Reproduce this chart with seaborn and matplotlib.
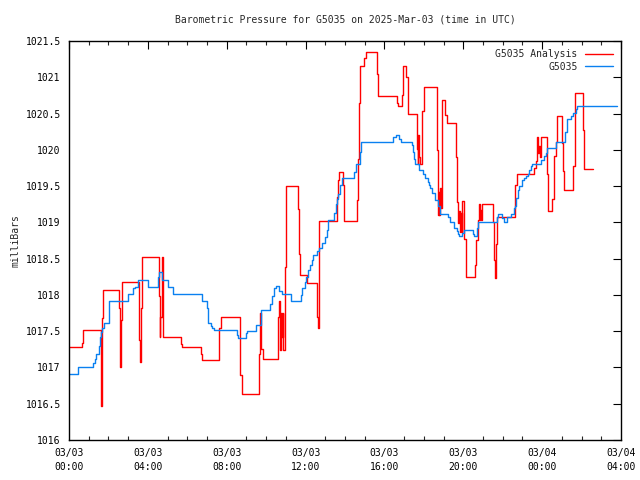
import matplotlib
matplotlib.use("Agg")
import matplotlib.pyplot as plt
import seaborn as sns
import pandas as pd
from matplotlib.ticker import MultipleLocator, FixedLocator

# ---- data (hours since 03/03 00:00 UTC, millibars) ----
analysis_t = [0.0, 0.64, 0.73, 1.61, 1.63, 1.66, 1.74, 2.55, 2.58, 2.61, 2.66, 2.70,
              3.55, 3.62, 3.66, 3.72, 4.58, 4.60, 4.64, 4.70, 4.77, 5.68, 5.75,
              6.68, 6.73, 7.63, 7.72, 8.68, 8.76, 9.65, 9.70, 9.76, 9.83,
              10.62, 10.66, 10.70, 10.76, 10.80, 10.84, 10.88, 10.96, 11.00,
              11.64, 11.67, 11.73, 12.09, 12.57, 12.60, 12.65, 12.68, 12.70,
              13.58, 13.65, 13.71, 13.90, 13.93, 13.97,
              14.63, 14.66, 14.71, 14.78, 14.97, 15.05, 15.64, 15.69,
              16.62, 16.71, 16.88, 16.96, 17.08, 17.21,
              17.64, 17.68, 17.72, 17.76, 17.82, 17.90, 18.01,
              18.66, 18.71, 18.75, 18.78, 18.82, 18.87, 18.94, 19.05, 19.09, 19.16,
              19.62, 19.70, 19.75, 19.80, 19.85, 19.90, 19.93, 19.96, 20.05, 20.12,
              20.60, 20.66, 20.73, 20.78, 20.83, 20.87, 20.92, 20.97,
              21.53, 21.58, 21.62, 21.66, 21.69, 22.63, 22.71,
              23.61, 23.69, 23.76, 23.80, 23.85, 23.88, 23.95,
              24.24, 24.29, 24.52, 24.60, 24.69, 24.77,
              25.00, 25.06, 25.13, 25.59, 25.67, 26.06, 26.11, 26.60]
analysis_p = [1017.28, 1017.34, 1017.52, 1017.01, 1016.47, 1017.68, 1018.07, 1017.82, 1017.30, 1017.01, 1017.65, 1018.18,
              1017.38, 1017.08, 1017.82, 1018.52, 1017.98, 1017.42, 1017.70, 1018.52, 1017.42, 1017.33, 1017.28,
              1017.19, 1017.10, 1017.54, 1017.69, 1016.90, 1016.63, 1017.19, 1017.75, 1017.26, 1017.11,
              1017.70, 1017.91, 1017.24, 1017.75, 1017.42, 1017.75, 1017.24, 1018.38, 1019.50,
              1019.19, 1018.57, 1018.27, 1018.17, 1017.90, 1017.70, 1017.54, 1018.29, 1019.02,
              1019.35, 1019.58, 1019.70, 1019.52, 1019.20, 1019.02,
              1019.31, 1019.88, 1020.65, 1021.15, 1021.26, 1021.35, 1021.05, 1020.74,
              1020.65, 1020.60, 1020.75, 1021.15, 1021.01, 1020.49,
              1020.01, 1019.81, 1020.21, 1019.90, 1019.81, 1020.53, 1020.86,
              1020.00, 1019.10, 1019.42, 1019.10, 1019.47, 1019.20, 1020.69, 1020.60, 1020.48, 1020.37,
              1019.90, 1019.28, 1018.99, 1019.15, 1018.87, 1019.13, 1018.87, 1019.30, 1018.77, 1018.24,
              1018.41, 1018.76, 1019.03, 1019.25, 1019.03, 1019.17, 1019.03, 1019.25,
              1019.01, 1018.48, 1018.23, 1018.70, 1019.08, 1019.51, 1019.67,
              1019.75, 1019.84, 1020.17, 1019.95, 1020.05, 1019.90, 1020.17,
              1019.67, 1019.16, 1019.32, 1019.91, 1020.11, 1020.47,
              1020.10, 1019.71, 1019.45, 1019.78, 1020.79, 1020.27, 1019.74, 1019.74]

station_t = [0.0, 0.47, 1.23, 1.30, 1.35, 1.52, 1.57, 1.62, 1.69, 1.79, 2.02, 2.98, 3.26, 3.35, 3.52,
             3.99, 4.50, 4.55, 4.73, 5.02, 5.27, 6.73, 6.98, 7.03, 7.07, 7.20, 7.27, 7.34,
             8.50, 8.55, 8.96, 9.05, 9.50, 9.74, 10.20, 10.30, 10.42, 10.50, 10.66, 10.79,
             11.26, 11.77, 11.84, 11.97, 12.01, 12.14, 12.23, 12.31, 12.40, 12.57, 12.68, 12.82,
             12.99, 13.07, 13.13, 13.16, 13.46, 13.53, 13.58, 13.63, 13.75, 13.84,
             14.48, 14.54, 14.77, 14.81, 16.46, 16.58, 16.75, 16.83,
             17.39, 17.47, 17.52, 17.55, 17.76, 17.98, 18.06, 18.20, 18.26, 18.33, 18.40,
             18.57, 18.74, 18.82, 19.21, 19.33, 19.55, 19.68, 19.75, 19.78, 19.95, 20.05,
             20.51, 20.56, 20.72, 20.77, 21.70, 21.75, 21.95, 22.06, 22.20, 22.40, 22.55,
             22.63, 22.68, 22.76, 22.83, 22.97, 23.10, 23.20, 23.27, 23.35, 23.44, 23.50,
             23.95, 24.11, 24.18, 24.23, 24.71, 25.16, 25.25, 25.47, 25.54, 25.72, 25.77, 27.80]
station_p = [1016.91, 1017.00, 1017.06, 1017.12, 1017.19, 1017.29, 1017.42, 1017.49, 1017.55, 1017.61, 1017.91, 1018.01, 1018.09, 1018.11, 1018.20,
             1018.11, 1018.25, 1018.31, 1018.20, 1018.11, 1018.01, 1017.92, 1017.82, 1017.69, 1017.61, 1017.57, 1017.54, 1017.51,
             1017.45, 1017.40, 1017.47, 1017.50, 1017.59, 1017.79, 1017.88, 1017.98, 1018.09, 1018.12, 1018.06, 1018.01,
             1017.92, 1018.00, 1018.09, 1018.18, 1018.25, 1018.34, 1018.41, 1018.48, 1018.55, 1018.61, 1018.64, 1018.71,
             1018.80, 1018.89, 1018.96, 1019.03, 1019.13, 1019.26, 1019.32, 1019.39, 1019.51, 1019.61,
             1019.70, 1019.81, 1019.97, 1020.11, 1020.18, 1020.21, 1020.15, 1020.11,
             1020.07, 1019.97, 1019.88, 1019.81, 1019.72, 1019.67, 1019.61, 1019.56, 1019.51, 1019.47, 1019.40,
             1019.31, 1019.22, 1019.11, 1019.08, 1019.01, 1018.92, 1018.88, 1018.84, 1018.81, 1018.86, 1018.90,
             1018.84, 1018.81, 1018.92, 1019.01, 1019.08, 1019.11, 1019.06, 1019.01, 1019.08, 1019.11, 1019.20,
             1019.22, 1019.33, 1019.45, 1019.50, 1019.58, 1019.61, 1019.64, 1019.67, 1019.72, 1019.78, 1019.81,
             1019.86, 1019.91, 1019.96, 1020.02, 1020.11, 1020.25, 1020.42, 1020.46, 1020.51, 1020.56, 1020.61, 1020.61]

x_tick_hours = [0, 4, 8, 12, 16, 20, 24, 28]
x_tick_labels = ["03/03\n00:00", "03/03\n04:00", "03/03\n08:00", "03/03\n12:00",
                 "03/03\n16:00", "03/03\n20:00", "03/04\n00:00", "03/04\n04:00"]
y_ticks = [1016, 1016.5, 1017, 1017.5, 1018, 1018.5, 1019, 1019.5, 1020, 1020.5, 1021, 1021.5]

title = "Barometric Pressure for G5035 on 2025-Mar-03 (time in UTC)"
y_label = "milliBars"
series_names = ["G5035 Analysis", "G5035"]
series_colors = ["#ff0000", "#0a80f0"]

# ---- plotting ----
sns.set_style("white")
plt.rcParams["font.family"] = ["DejaVu Sans Mono"]
plt.rcParams["font.size"] = 7

fig = plt.figure(figsize=(6.4, 4.8), dpi=100)
ax = fig.add_axes([69 / 640, 40 / 480, 552 / 640, 399 / 480])

df_a = pd.DataFrame({"t": analysis_t, "p": analysis_p})
df_s = pd.DataFrame({"t": station_t, "p": station_p})
sns.lineplot(data=df_a, x="t", y="p", ax=ax, color=series_colors[0], lw=1,
             drawstyle="steps-post", estimator=None, sort=False, label=series_names[0])
sns.lineplot(data=df_s, x="t", y="p", ax=ax, color=series_colors[1], lw=1,
             drawstyle="steps-post", estimator=None, sort=False, label=series_names[1])

ax.set_xlim(0, 28)
ax.set_ylim(1016, 1021.5)
ax.xaxis.set_major_locator(FixedLocator(x_tick_hours))
ax.xaxis.set_minor_locator(MultipleLocator(1))
ax.set_xticklabels(x_tick_labels, linespacing=1.5)
ax.yaxis.set_major_locator(FixedLocator(y_ticks))
ax.set_yticklabels(["%g" % v for v in y_ticks])

ax.tick_params(axis="both", which="major", direction="in", length=6, width=0.8,
               top=True, right=True, labelsize=7, colors="black", pad=6)
ax.tick_params(axis="x", which="minor", direction="in", length=3, width=0.8,
               top=True, bottom=True)
for s in ax.spines.values():
    s.set_visible(True)
    s.set_color("black")
    s.set_linewidth(1)

ax.set_xlabel("")
ax.set_ylabel(y_label, fontsize=7)
ax.yaxis.set_label_coords(-0.088, 0.5)
ax.set_title(title, fontsize=7, pad=13)

leg = ax.legend(loc="upper right", frameon=False, markerfirst=False, fontsize=7,
                handlelength=2.9, handletextpad=0.7, labelspacing=0.25,
                borderaxespad=0.75, borderpad=0.1)
for t in leg.get_texts():
    t.set_ha("right")

fig.savefig("out.png", dpi=100)
